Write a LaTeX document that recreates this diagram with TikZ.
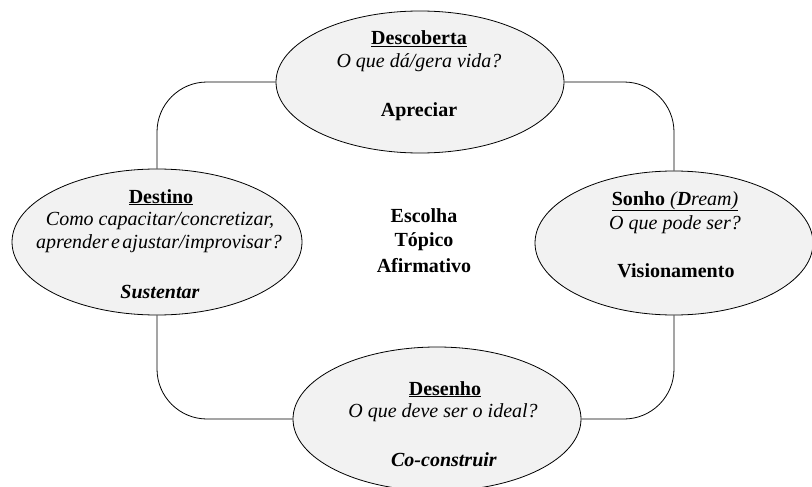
\documentclass[tikz,border=0pt]{standalone}
\usepackage{fontspec}
\setmainfont{Liberation Serif}
\usetikzlibrary{shapes.geometric}
\definecolor{blobfill}{HTML}{F2F2F2}
\tikzset{
  blob/.style={ellipse, draw=black, line width=0.8pt, fill=blobfill, inner sep=0pt},
  conn/.style={draw=black, line width=0.8pt, rounded corners=50pt},
  txt/.style={anchor=base, inner sep=0pt, font=\fontsize{20}{23}\selectfont},
}
\begin{document}
\begin{tikzpicture}[x=1pt,y=-1pt]
\useasboundingbox (0,0) rectangle (812,487);
\begin{scope}
\clip (0,0) rectangle (812,487);
% ellipses
\node[blob, minimum width=288pt, minimum height=142pt] (desc) at (420,82) {};
\node[blob, minimum width=290pt, minimum height=146pt] (dest) at (157,242) {};
\node[blob, minimum width=278pt, minimum height=144pt] (sonho) at (674,243) {};
\node[blob, minimum width=288pt, minimum height=144pt] (desen) at (437,419) {};
\end{scope}
% connectors
\draw[conn] (desc.west) -| (dest.north);
\draw[conn] (desc.east) -| (sonho.north);
\draw[conn] (sonho.south) |- (desen.east);
\draw[conn] (dest.south) |- (desen.west);
% texts: Descoberta
\node[txt] (d1) at (419,45) {\underline{\textbf{Descoberta}}};
\node[txt] (d2) at (419,68) {\textit{O que dá/gera vida?}};
\node[txt] (d3) at (419,117) {\textbf{Apreciar}};
% Destino
\node[txt] (t1) at (161,203) {\underline{\textbf{Destino}}};
\node[txt] (t2) at (160,225) {\textit{Como capacitar/concretizar,}};
\node[txt] (t3) at (159,248) {\spaceskip=0.12em\textit{aprender e ajustar/improvisar?}};
\node[txt] (t4) at (160,298) {\textbf{\textit{Sustentar}}};
% Sonho
\node[txt] (s1) at (675,205) {\underline{\textbf{Sonho} \textit{(\textbf{D}ream)}}};
\node[txt] (s2) at (675,229) {\textit{O que pode ser?}};
\node[txt] (s3) at (676,277) {\textbf{Visionamento}};
% Desenho
\node[txt] (e1) at (445,395) {\underline{\textbf{Desenho}}};
\node[txt] (e2) at (443,417) {\textit{O que deve ser o ideal?}};
\node[txt] (e3) at (444,466) {\textbf{\textit{Co-construir}}};
% center
\node[txt] (c1) at (424,222) {\textbf{Escolha}};
\node[txt] (c2) at (424,246) {\textbf{Tópico}};
\node[txt] (c3) at (424,272) {\textbf{Afirmativo}};
\end{tikzpicture}
\end{document}
